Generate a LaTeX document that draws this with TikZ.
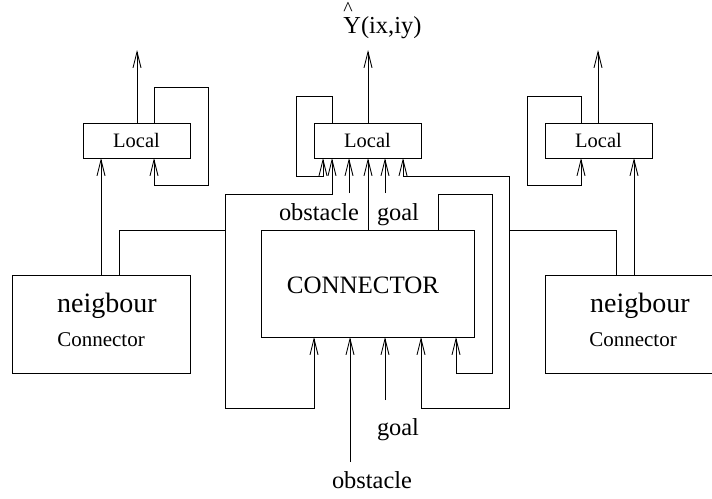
\documentclass[tikz,border=0pt]{standalone}
\usepackage{fontspec}
\setmainfont{Liberation Serif}
\usetikzlibrary{arrows.meta}
\begin{document}
\begin{tikzpicture}[x=1pt,y=-1pt,line width=0.9pt,
  box/.style={draw,rectangle,inner sep=0pt,outer sep=0pt},
  localbox/.style={box,minimum width=107pt,minimum height=35pt,font=\fontsize{20.5}{22}\selectfont},
  nbbox/.style={box,minimum width=178pt,minimum height=98pt},
  arr/.style={-{Straight Barb[length=16pt,width=8pt]}},
  arrs/.style={{Straight Barb[length=16pt,width=8pt]}-{Straight Barb[length=16pt,width=8pt]}},
  lbl/.style={font=\fontsize{24.4}{26}\selectfont,inner sep=0pt,anchor=base}]
\useasboundingbox (0,0) rectangle (712,498);
% boxes
\node[localbox] (LL) at (136.5,140.5) {Local};
\node[localbox] (CL) at (367.5,140.5) {Local};
\node[localbox] (RL) at (598.5,140.5) {Local};
\node[box,minimum width=213pt,minimum height=107pt] (CONN) at (367.5,283.5) {};
\node[nbbox] (NL) at (101,324) {};
\node[nbbox] (NR) at (634,324) {};
% texts
\node[inner sep=0pt,anchor=base,font=\fontsize{25}{27}\selectfont] (conntext) at (363,293) {CONNECTOR};
\node[inner sep=0pt,anchor=base,font=\fontsize{28}{30}\selectfont] (nlt1) at (107,312) {neigbour};
\node[inner sep=0pt,anchor=base,font=\fontsize{21}{23}\selectfont] (nlt2) at (101,346) {Connector};
\node[inner sep=0pt,anchor=base,font=\fontsize{28}{30}\selectfont] (nrt1) at (640,312) {neigbour};
\node[inner sep=0pt,anchor=base,font=\fontsize{21}{23}\selectfont] (nrt2) at (633,346) {Connector};
\node[lbl,anchor=base west] (yout) at (343,33) {\rlap{\raisebox{18pt}{\fontsize{20}{22}\selectfont\textasciicircum}}Y(ix,iy)};
\node[lbl] (obsT) at (319,220) {obstacle};
\node[lbl] (goalT) at (398,220) {goal};
\node[lbl] (goalB) at (398,435) {goal};
\node[lbl] (obsB) at (372,488) {obstacle};
% free ends
\coordinate (LLo) at (137,50);
\coordinate (CLo) at (368,50);
\coordinate (RLo) at (598,50);
\coordinate (obsTin) at (349,193);
\coordinate (goalTin) at (385,193);
\coordinate (obsBin) at (350,462);
\coordinate (goalBin) at (385,400);
% left local
\draw[arr] (LL.north -| LLo) -- (LLo);
\draw[arr] (LL.north -| 154,0) -- (154,87) -- (208,87) -- (208,185) -- (154,185) -- (LL.south -| 154,0);
\draw[arr] (NL.north -| 101,0) -- (LL.south -| 101,0);
\draw (NL.north -| 119,0) |- (225,230);
% central local
\draw[arr] (CL.north -| CLo) -- (CLo);
\draw[arr] (CL.north -| 332,0) -- (332,96) -- (296,96) -- (296,176) -- (323,176) -- (CL.south -| 323,0);
\draw[arrs] (CL.south -| 332,0) |- (225,194) -- (225,408) -| (CONN.south -| 314,0);
\draw[arr] (obsTin) -- (CL.south -| obsTin);
\draw[arr] (goalTin) -- (CL.south -| goalTin);
\draw[arr] (CONN.north -| 368,0) -- (CL.south -| 368,0);
\draw[arrs] (CL.south -| 403,0) |- (509,176) -- (509,408) -| (CONN.south -| 421,0);
\draw[arr] (CONN.north -| 438,0) |- (492,194) -- (492,373) -| (CONN.south -| 456,0);
\draw (509,230) -| (NR.north -| 616,0);
% right local
\draw[arr] (RL.north -| RLo) -- (RLo);
\draw[arr] (RL.north -| 581,0) -- (581,96) -- (527,96) -- (527,185) -- (581,185) -- (RL.south -| 581,0);
\draw[arr] (NR.north -| 634,0) -- (RL.south -| 634,0);
% bottom inputs
\draw[arr] (obsBin) -- (CONN.south -| obsBin);
\draw[arr] (goalBin) -- (CONN.south -| goalBin);
\end{tikzpicture}
\end{document}
